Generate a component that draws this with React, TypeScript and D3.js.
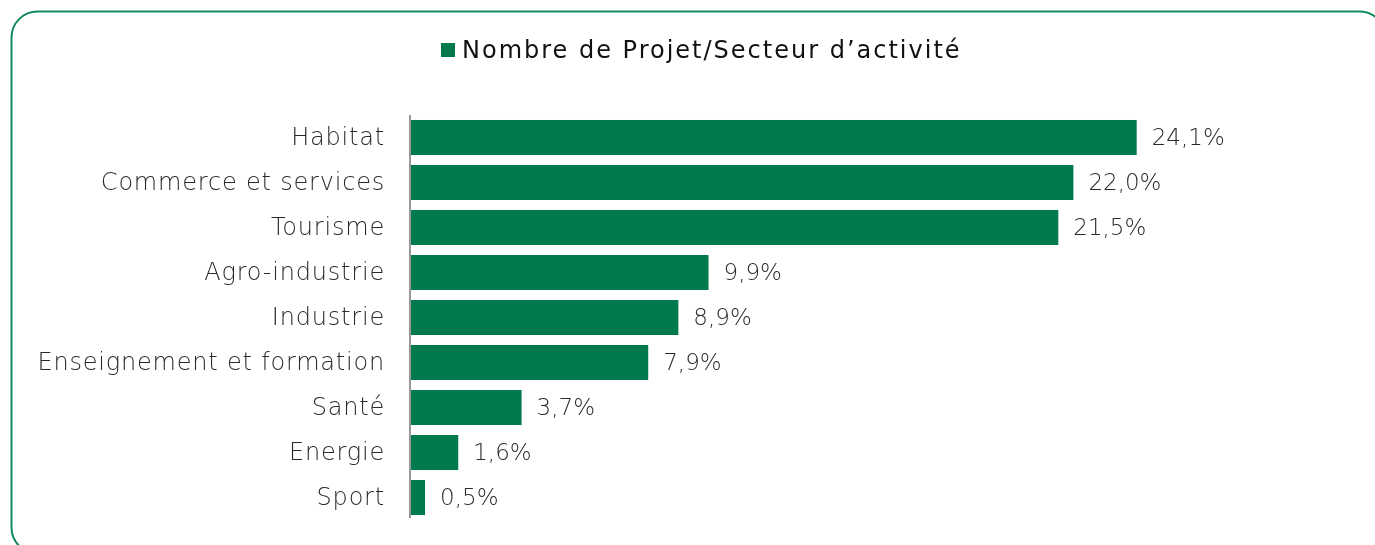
import React from "react";
import * as d3 from "d3";

const categories = [
  "Habitat",
  "Commerce et services",
  "Tourisme",
  "Agro-industrie",
  "Industrie",
  "Enseignement et formation",
  "Santé",
  "Energie",
  "Sport",
];
const values = [24.1, 22.0, 21.5, 9.9, 8.9, 7.9, 3.7, 1.6, 0.5];
const legendLabel = "Nombre de Projet/Secteur d\u2019activité";

const W = 1375;
const H = 545;
const GREEN = "#007a4d";
const FONT = "'DejaVu Sans', sans-serif";

export default function App() {
  const x = d3.scaleLinear().domain([0, 24.1]).range([410, 1136.7]);
  const y = d3
    .scaleBand<string>()
    .domain(categories)
    .range([115, 520])
    .paddingInner(0.2222)
    .paddingOuter(0.111);
  const fmt = (v: number) => d3.format(".1f")(v).replace(".", ",") + "%";
  return (
    <div style={{ position: "fixed", left: 0, top: 0, width: W, height: H, overflow: "hidden" }}>
      <svg width={W} height={H} style={{ display: "block" }}>
        <rect x={11.5} y={11.5} width={1374} height={542} rx={26} ry={26} fill="white" stroke="#128a5a" strokeWidth={2} />
        <rect x={441} y={43} width={14} height={14} fill={GREEN} />
        <text x={462} y={58} fontFamily={FONT} fontSize={24} letterSpacing={2} fill="#111">
          {legendLabel}
        </text>
        {categories.map((c, i) => {
          const cy = (y(c) as number) + y.bandwidth() / 2;
          return (
            <g key={c}>
              <rect x={x(0)} y={y(c)} width={x(values[i]) - x(0)} height={y.bandwidth()} fill={GREEN} />
              <text x={385} y={cy + 7.5} textAnchor="end" fontFamily={FONT} fontWeight={200} fontSize={24} letterSpacing={0.8} fill="#2a2a2a">
                {c}
              </text>
              <text x={x(values[i]) + 15} y={cy + 7.5} fontFamily={FONT} fontWeight={200} fontSize={23} fill="#2a2a2a">
                {fmt(values[i])}
              </text>
            </g>
          );
        })}
        <line x1={410} x2={410} y1={115} y2={518} stroke="#999" strokeWidth={2} />
      </svg>
    </div>
  );
}
